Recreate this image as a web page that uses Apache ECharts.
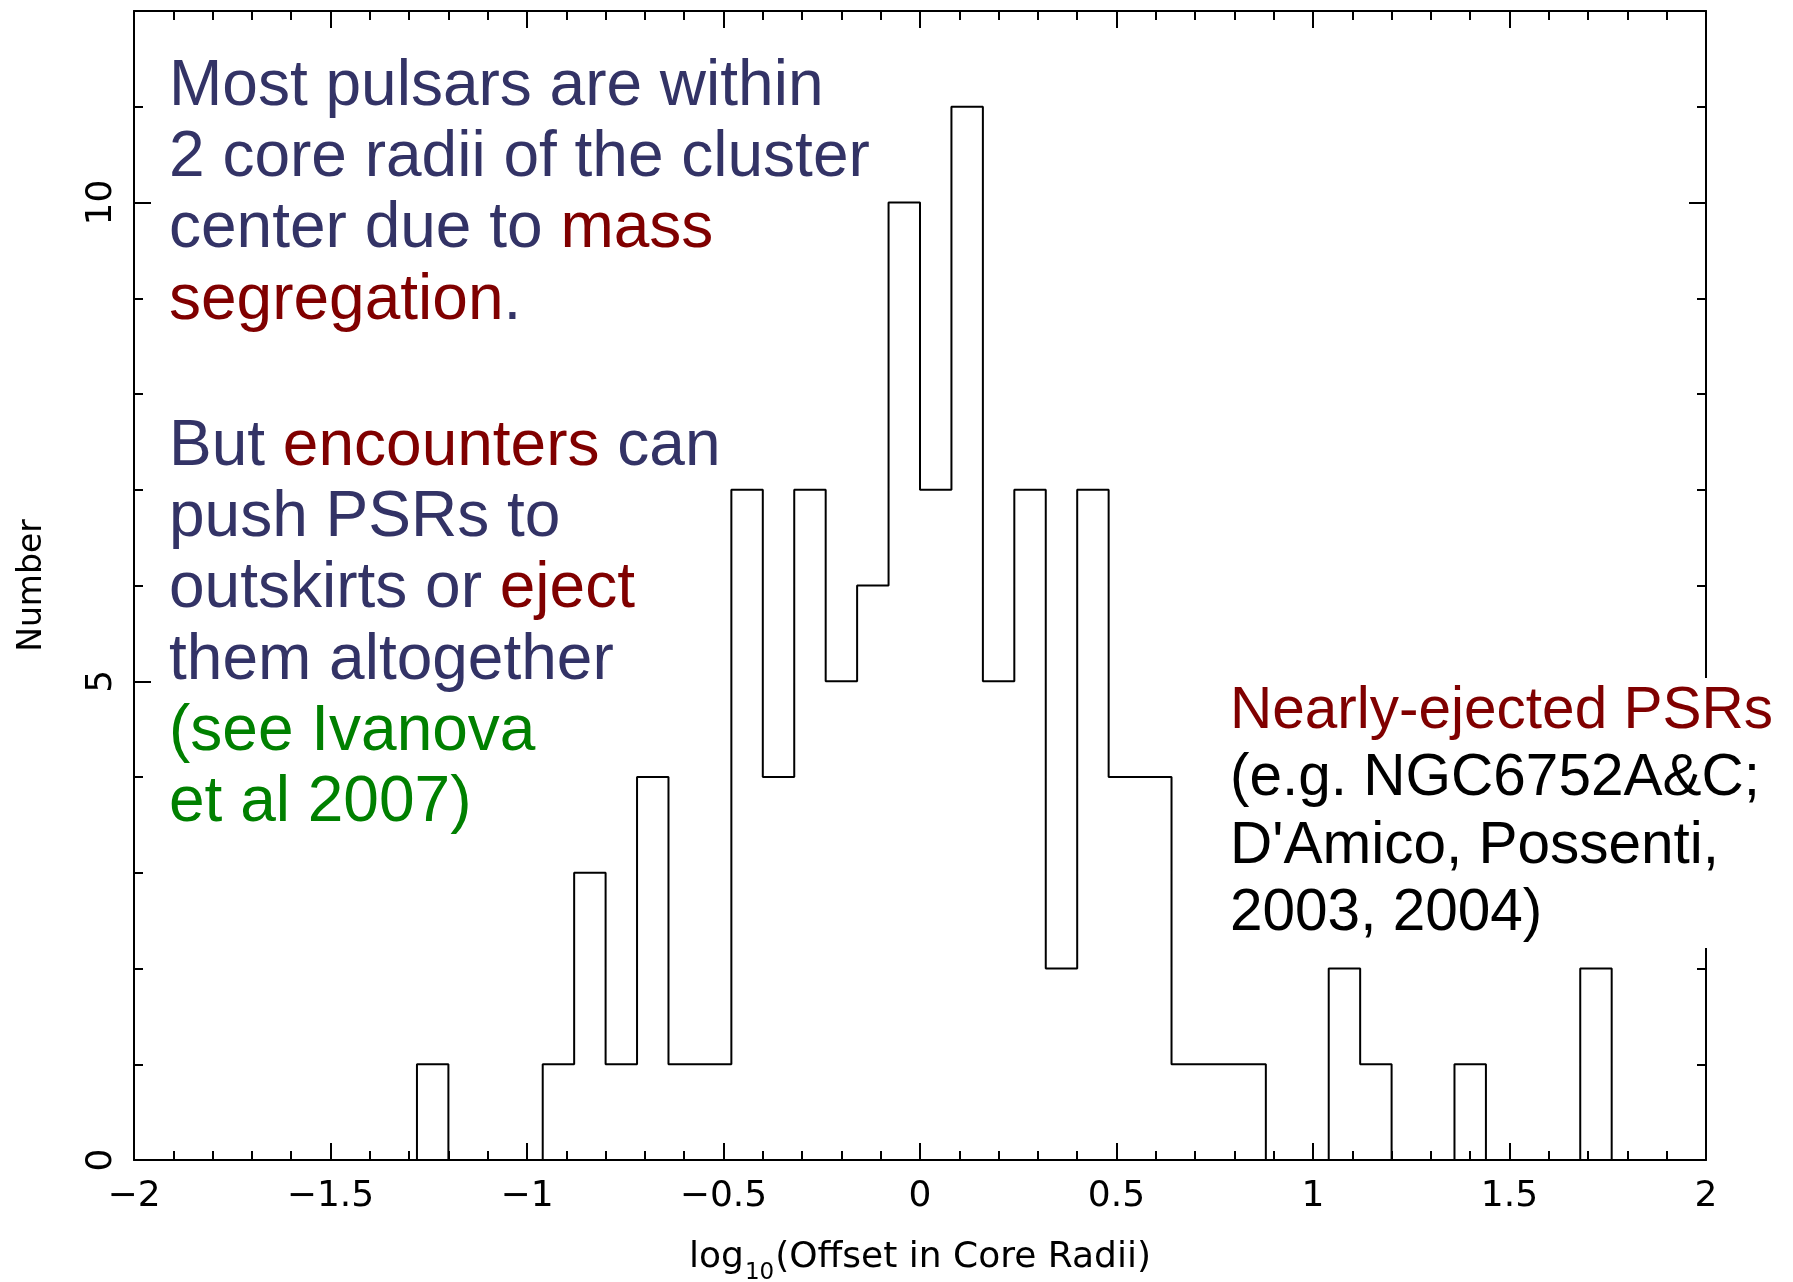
<!DOCTYPE html>
<html>
<head>
<meta charset="utf-8">
<title>Pulsar offsets in globular clusters</title>
<script src="https://cdn.jsdelivr.net/npm/echarts@6/dist/echarts.min.js"></script>
<style>
  html, body { margin: 0; padding: 0; background: #ffffff; }
  #chart { width: 1793px; height: 1282px; }
</style>
</head>
<body>
<div id="chart"></div>
<script>
// Histogram bin edges in log10(offset / core radius)
const binEdges = [
  -2.00, -1.92, -1.84, -1.76, -1.68, -1.60, -1.52, -1.44, -1.36, -1.28,
  -1.20, -1.12, -1.04, -0.96, -0.88, -0.80, -0.72, -0.64, -0.56, -0.48,
  -0.40, -0.32, -0.24, -0.16, -0.08,  0.00,  0.08,  0.16,  0.24,  0.32,
   0.40,  0.48,  0.56,  0.64,  0.72,  0.80,  0.88,  0.96,  1.04,  1.12,
   1.20,  1.28,  1.36,  1.44,  1.52,  1.60,  1.68,  1.76,  1.84,  1.92,
   2.00
];

// Number of pulsars in each bin
const binCounts = [
  0, 0, 0, 0, 0, 0, 0, 0, 0, 1,
  0, 0, 0, 1, 3, 1, 4, 1, 1, 7,
  4, 7, 5, 6, 10, 7, 11, 5, 7, 2,
  7, 4, 4, 1, 1, 1, 0, 0, 2, 1,
  0, 0, 1, 0, 0, 0, 2, 0, 0, 0
];

const xMin = -2, xMax = 2, xStep = 0.5;
const yMin = 0, yMax = 12, yMajorStep = 5, yMinorStep = 1;
const yTickLabels = ['0', '5', '10'];

const xTitle = '{m|log}{sub|10}{m|(Offset in Core Radii)}';
const yTitle = 'Number';

// Outline of the histogram: a flat top per bin, joined by vertical steps
const outline = [];
for (let i = 0; i < binCounts.length; i++) {
  outline.push([binEdges[i], binCounts[i]]);
  outline.push([binEdges[i + 1], binCounts[i]]);
}

const ink = '#000000';
const tickFont = 'DejaVu Sans';
const noteFont = '"Liberation Sans", Arial, sans-serif';
const navy = '#333366';
const maroon = '#800000';
const green = '#008000';

function minusFmt(v) {
  const s = String(Math.round(v * 10) / 10);
  return v < 0 ? '\u2212' + s.slice(1) : s;
}

const frameLine = { show: true, onZero: false, lineStyle: { color: ink, width: 2 } };
const hiddenLine = { show: false, onZero: false };
const majorTick = { show: true, inside: true, length: 17, lineStyle: { color: ink, width: 2 } };
const minorTickLen = { show: true, inside: true, length: 9, lineStyle: { color: ink, width: 2 } };

const chart = echarts.init(document.getElementById('chart'), null, { renderer: 'canvas' });

chart.setOption({
  backgroundColor: '#ffffff',
  animation: false,
  grid: {
    left: 134, right: 87, top: 11, bottom: 122,
    containLabel: false,
    outerBoundsMode: 'none'
  },
  xAxis: [
    {
      type: 'value', position: 'bottom',
      min: xMin, max: xMax, interval: xStep,
      axisLine: frameLine,
      axisTick: majorTick,
      minorTick: { show: true, splitNumber: 5, length: 9, lineStyle: { color: ink, width: 2 } },
      splitLine: { show: false },
      minorSplitLine: { show: false },
      axisLabel: {
        show: true, margin: 19, color: ink, fontFamily: tickFont, fontSize: 36,
        showMinLabel: true, showMaxLabel: true, hideOverlap: false,
        formatter: minusFmt
      },
      name: xTitle,
      nameLocation: 'middle',
      nameGap: 80,
      nameTextStyle: {
        color: ink, fontFamily: tickFont, fontSize: 36,
        rich: {
          m: { fontFamily: tickFont, fontSize: 36, verticalAlign: 'top' },
          sub: { fontFamily: tickFont, fontSize: 23, verticalAlign: 'bottom', padding: [22, 1, 0, 1] }
        }
      }
    },
    {
      type: 'value', position: 'top',
      min: xMin, max: xMax, interval: xStep,
      axisLine: frameLine,
      axisTick: majorTick,
      minorTick: { show: true, splitNumber: 5, length: 9, lineStyle: { color: ink, width: 2 } },
      splitLine: { show: false },
      minorSplitLine: { show: false },
      axisLabel: { show: false }
    }
  ],
  yAxis: [
    {
      type: 'value', position: 'left',
      min: yMin, max: yMax, interval: yMajorStep,
      axisLine: frameLine,
      axisTick: majorTick,
      splitLine: { show: false },
      axisLabel: {
        show: true, rotate: 90, margin: 14, color: ink, fontFamily: tickFont, fontSize: 36,
        showMinLabel: true, showMaxLabel: false,
        formatter: function (v) {
          const s = String(v);
          return yTickLabels.indexOf(s) >= 0 ? s : '';
        }
      },
      name: yTitle,
      nameLocation: 'middle',
      nameRotate: 90,
      nameGap: 85,
      nameTextStyle: { color: ink, fontFamily: tickFont, fontSize: 33 }
    },
    {
      type: 'value', position: 'left',
      min: yMin, max: yMax, interval: yMinorStep,
      axisLine: hiddenLine,
      axisTick: minorTickLen,
      splitLine: { show: false },
      axisLabel: { show: false }
    },
    {
      type: 'value', position: 'right',
      min: yMin, max: yMax, interval: yMajorStep,
      axisLine: frameLine,
      axisTick: majorTick,
      splitLine: { show: false },
      axisLabel: { show: false }
    },
    {
      type: 'value', position: 'right',
      min: yMin, max: yMax, interval: yMinorStep,
      axisLine: hiddenLine,
      axisTick: minorTickLen,
      splitLine: { show: false },
      axisLabel: { show: false }
    }
  ],
  series: [
    {
      type: 'line',
      name: 'Pulsars',
      xAxisIndex: 0,
      yAxisIndex: 0,
      data: outline,
      showSymbol: false,
      symbol: 'none',
      clip: false,
      lineStyle: { color: ink, width: 2 },
      z: 3
    }
  ],
  graphic: [
    {
      type: 'text',
      left: 169, top: 51.5, z: 100,
      style: {
        text: 'Most pulsars are within\n2 core radii of the cluster\ncenter due to {r|mass}\n{r|segregation}.',
        fontFamily: noteFont, fontSize: 64, lineHeight: 71.3, fill: navy,
        rich: { r: { fill: maroon, fontFamily: noteFont, fontSize: 64, lineHeight: 71.3 } }
      }
    },
    {
      type: 'text',
      left: 169, top: 411.5, z: 100,
      style: {
        text: 'But {r|encounters} can\npush PSRs to\noutskirts or {r|eject}\nthem altogether\n{g|(see Ivanova}\n{g|et al 2007)}',
        fontFamily: noteFont, fontSize: 64, lineHeight: 71.3, fill: navy,
        rich: {
          r: { fill: maroon, fontFamily: noteFont, fontSize: 64, lineHeight: 71.3 },
          g: { fill: green, fontFamily: noteFont, fontSize: 64, lineHeight: 71.3 }
        }
      }
    },
    {
      type: 'text',
      left: 1230, top: 678, z: 100,
      style: {
        text: '{r|Nearly-ejected PSRs}\n(e.g. NGC6752A&C;\nD\'Amico, Possenti,\n2003, 2004)',
        fontFamily: noteFont, fontSize: 58.5, lineHeight: 67.5, fill: ink,
        backgroundColor: '#ffffff',
        rich: { r: { fill: maroon, fontFamily: noteFont, fontSize: 58.5, lineHeight: 67.5 } }
      }
    }
  ]
});
</script>
</body>
</html>
